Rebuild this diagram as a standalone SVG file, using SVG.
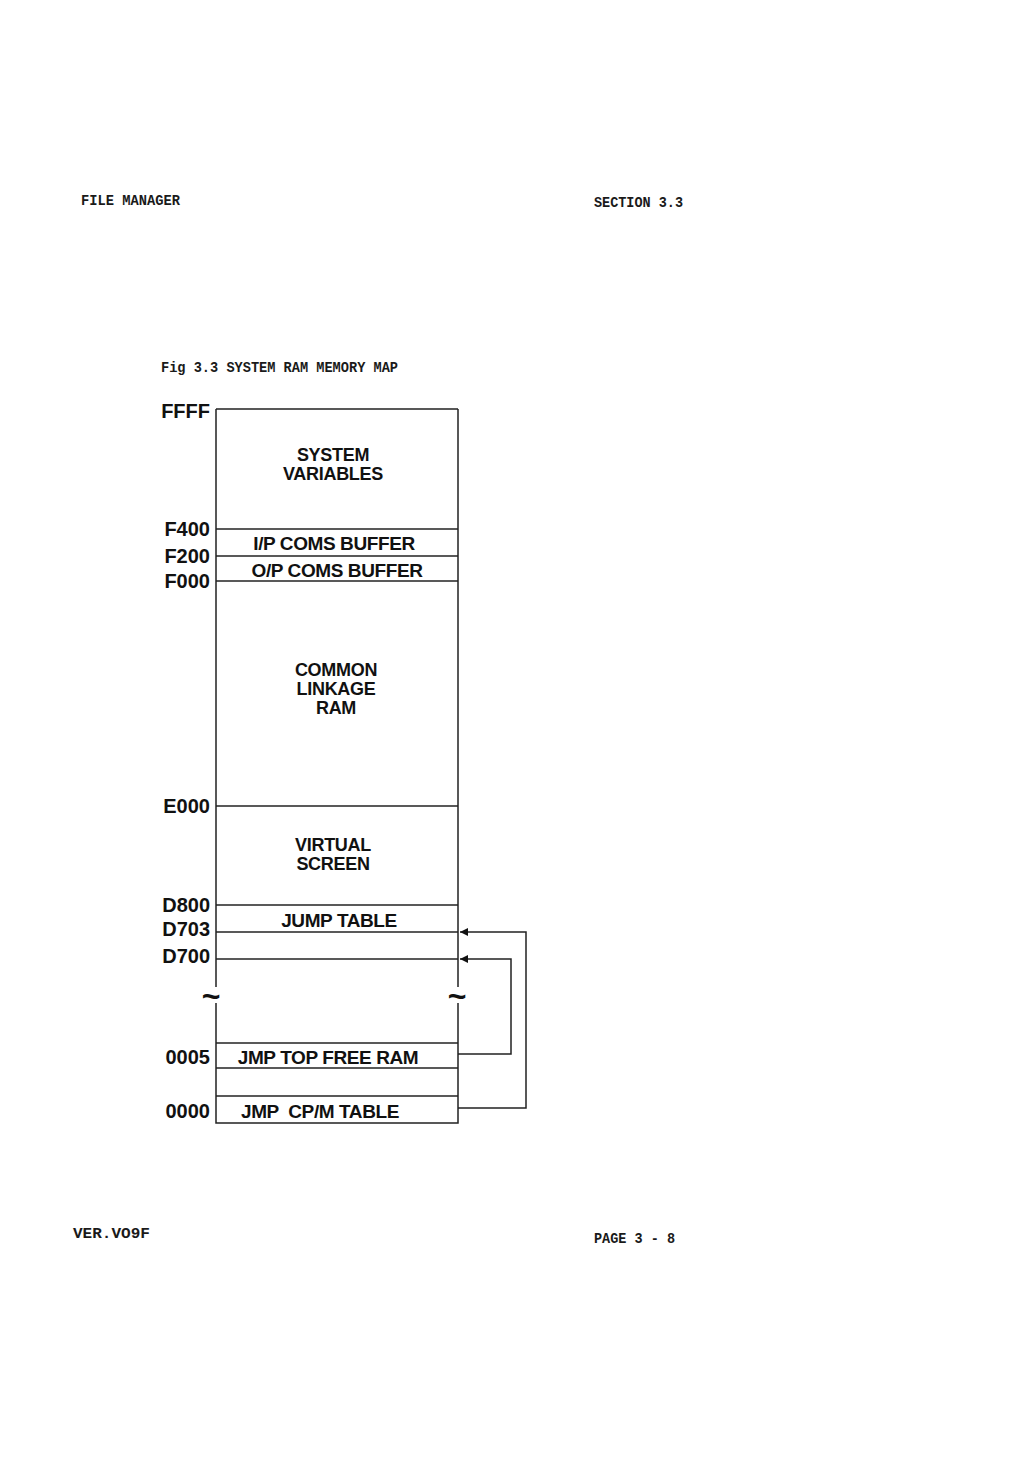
<svg xmlns="http://www.w3.org/2000/svg" width="1032" height="1458" viewBox="0 0 1032 1458">
<defs>
<style>
.hdr{font-family:"Liberation Mono",monospace;font-weight:bold;font-size:15.5px;fill:#1a1a1a}
.lbl{font-family:"Liberation Sans",Arial,sans-serif;font-weight:bold;font-size:20px;fill:#111;text-anchor:end}
.box{font-family:"Liberation Sans",Arial,sans-serif;font-weight:bold;font-size:19px;fill:#111;text-anchor:middle;letter-spacing:-0.4px}
.stk{font-family:"Liberation Sans",Arial,sans-serif;font-weight:bold;font-size:18px;fill:#111;text-anchor:middle;letter-spacing:-0.3px}
.ln{stroke:#222;stroke-width:1.5;fill:none}
.tl{font-family:"Liberation Sans",Arial,sans-serif;font-weight:bold;font-size:32px;fill:#111;text-anchor:middle}
</style>
<marker id="ah" viewBox="0 0 10 10" refX="10" refY="5" markerWidth="12" markerHeight="8" markerUnits="userSpaceOnUse" orient="auto">
<path d="M0,0 L10,5 L0,10 z" fill="#111"/>
</marker>
</defs>
<rect width="1032" height="1458" fill="#fff"/>
<text class="hdr" x="81" y="205" textLength="99" lengthAdjust="spacingAndGlyphs">FILE MANAGER</text>
<text class="hdr" x="594" y="207" textLength="89" lengthAdjust="spacingAndGlyphs">SECTION 3.3</text>
<text class="hdr" x="161" y="372" textLength="237" lengthAdjust="spacingAndGlyphs">Fig 3.3 SYSTEM RAM MEMORY MAP</text>
<text class="hdr" x="73" y="1238" textLength="77" lengthAdjust="spacingAndGlyphs">VER.VO9F</text>
<text class="hdr" x="594" y="1243" textLength="81" lengthAdjust="spacingAndGlyphs">PAGE 3 - 8</text>

<g id="frame">
<path class="ln" d="M216,409 H458 M216,409 V987 M458,409 V987 M216,1003 V1123 H458 V1003"/>
<text class="tl" x="211" y="1007">~</text>
<text class="tl" x="457" y="1007">~</text>
</g>
<g id="system-variables">
<text class="lbl" x="210" y="418">FFFF</text>
<text class="stk" x="333" y="461">SYSTEM</text>
<text class="stk" x="333" y="480">VARIABLES</text>
</g>
<g id="ip-coms">
<line class="ln" x1="216" y1="529" x2="458" y2="529"/>
<text class="lbl" x="210" y="536">F400</text>
<text class="box" x="334" y="550">I/P COMS BUFFER</text>
</g>
<g id="op-coms">
<line class="ln" x1="216" y1="556" x2="458" y2="556"/>
<text class="lbl" x="210" y="563">F200</text>
<text class="box" x="337" y="577">O/P COMS BUFFER</text>
</g>
<g id="common-linkage">
<line class="ln" x1="216" y1="581" x2="458" y2="581"/>
<text class="lbl" x="210" y="588">F000</text>
<text class="stk" x="336" y="676">COMMON</text>
<text class="stk" x="336" y="695">LINKAGE</text>
<text class="stk" x="336" y="714">RAM</text>
</g>
<g id="virtual-screen">
<line class="ln" x1="216" y1="806" x2="458" y2="806"/>
<text class="lbl" x="210" y="813">E000</text>
<text class="stk" x="333" y="851">VIRTUAL</text>
<text class="stk" x="333" y="870">SCREEN</text>
</g>
<g id="jump-table">
<line class="ln" x1="216" y1="905" x2="458" y2="905"/>
<text class="lbl" x="210" y="912">D800</text>
<text class="box" x="339" y="927">JUMP TABLE</text>
</g>
<g id="d703">
<line class="ln" x1="216" y1="932" x2="458" y2="932"/>
<text class="lbl" x="210" y="936">D703</text>
</g>
<g id="d700">
<line class="ln" x1="216" y1="959" x2="458" y2="959"/>
<text class="lbl" x="210" y="963">D700</text>
</g>
<g id="jmp-top-free-ram">
<line class="ln" x1="216" y1="1043" x2="458" y2="1043"/>
<text class="lbl" x="210" y="1064">0005</text>
<text class="box" x="328" y="1064">JMP TOP FREE RAM</text>
</g>
<g id="gap">
<line class="ln" x1="216" y1="1068" x2="458" y2="1068"/>
</g>
<g id="jmp-cpm-table">
<line class="ln" x1="216" y1="1096" x2="458" y2="1096"/>
<text class="lbl" x="210" y="1118">0000</text>
<text class="box" x="320" y="1118" xml:space="preserve">JMP  CP/M TABLE</text>
</g>
<g id="connectors">
<path class="ln" d="M458,1108 H526 V932 H460" marker-end="url(#ah)"/>
<path class="ln" d="M458,1054 H511 V959 H460" marker-end="url(#ah)"/>
</g>
</svg>
